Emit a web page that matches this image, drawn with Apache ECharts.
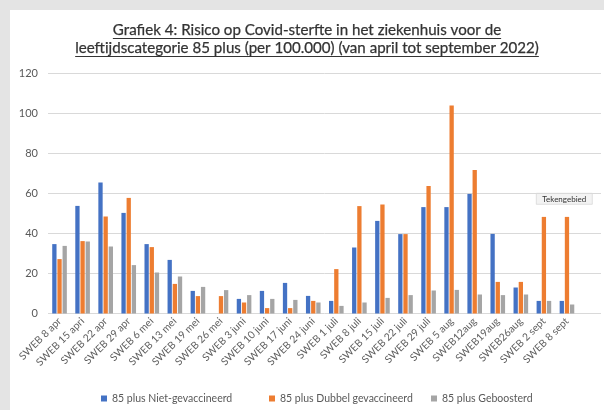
<!DOCTYPE html>
<html>
<head>
<meta charset="utf-8">
<script src="https://cdn.jsdelivr.net/npm/echarts@6/dist/echarts.min.js"></script>
<style>
  html, body { margin: 0; padding: 0; background: #e4e4e4; width: 604px; height: 410px; overflow: hidden; }
  #chart { position: absolute; left: 10px; top: 10px; width: 594px; height: 400px; background: #ffffff; }
</style>
</head>
<body>
<div id="chart"></div>
<script>
// Weekly hospital Covid mortality risk, age 85+, per 100,000 (April - September 2022)
const categories = [
  'SWEB 8 apr', 'SWEB 15 apri', 'SWEB 22 apr', 'SWEB 29 apr', 'SWEB 6 mei', 'SWEB 13 mei',
  'SWEB 19 mei', 'SWEB 26 mei', 'SWEB 3 juni', 'SWEB 10 juni', 'SWEB 17 juni', 'SWEB 24 juni',
  'SWEB 1 juli', 'SWEB 8 juli', 'SWEB 15 juli', 'SWEB 22 juli', 'SWEB 29 juli', 'SWEB 5 aug',
  'SWEB12aug', 'SWEB19aug', 'SWEB26aug', 'SWEB 2 sept', 'SWEB 8 sept'
];
const seriesNames = ['85 plus Niet-gevaccineerd', '85 plus Dubbel gevaccineerd', '85 plus Geboosterd'];
const nietGevaccineerd = [34.7, 53.8, 65.5, 50.3, 34.7, 26.8, 11.3, 0, 7.3, 11.3, 15.3, 8.8,
  6.3, 33.0, 46.3, 39.7, 53.2, 53.2, 59.8, 39.8, 13.0, 6.3, 6.3];
const dubbelGevaccineerd = [27.2, 36.2, 48.5, 57.8, 33.2, 14.8, 8.7, 8.7, 5.5, 2.7, 2.7, 6.3,
  22.2, 53.7, 54.5, 39.7, 63.8, 104.0, 71.8, 15.8, 15.8, 48.3, 48.3];
const geboosterd = [33.8, 36.0, 33.5, 24.2, 20.5, 18.5, 13.3, 11.7, 9.2, 7.3, 6.8, 5.5,
  3.8, 5.5, 7.8, 9.2, 11.5, 11.8, 9.5, 9.2, 9.5, 6.3, 4.5];
const yTicks = { min: 0, max: 120, interval: 20 };
const titleLines = [
  'Grafiek 4: Risico op Covid-sterfte in het ziekenhuis voor de',
  'leeftijdscategorie 85 plus (per 100.000) (van april tot september 2022)'
];
const tooltipNote = 'Tekengebied';

const colors = ['#4472C4', '#ED7D31', '#A5A5A5'];
const FONT = 'Lato, "Open Sans", sans-serif';

// Size the title so that the longer line spans the intended width
const measureCtx = document.createElement('canvas').getContext('2d');
function textWidth(txt, size, weight) {
  measureCtx.font = (weight || 'normal') + ' ' + size + 'px ' + FONT;
  return measureCtx.measureText(txt).width;
}
const titleSize = Math.min(16, 14 * 464 / textWidth(titleLines[1], 14));
const cx = 297;
const titleColor = '#333333';
const titleGraphics = [];
[[20.3, 28.5], [38.3, 46.5]].forEach(([ym, yu], i) => {
  const w = textWidth(titleLines[i], titleSize);
  titleGraphics.push({
    type: 'text', x: cx, y: ym, silent: true,
    style: { text: titleLines[i], font: `${titleSize}px ${FONT}`, fill: titleColor,
             stroke: titleColor, lineWidth: 0.25,
             align: 'center', verticalAlign: 'middle' }
  });
  titleGraphics.push({
    type: 'line', silent: true,
    shape: { x1: cx - w / 2, y1: yu, x2: cx + w / 2, y2: yu },
    style: { stroke: titleColor, lineWidth: 1 }
  });
});

const chart = echarts.init(document.getElementById('chart'), null, { renderer: 'canvas' });

const dataSets = [nietGevaccineerd, dubbelGevaccineerd, geboosterd];
const legendLefts = [86, 254, 416];

chart.setOption({
  animation: false,
  backgroundColor: '#ffffff',
  textStyle: { fontFamily: FONT },
  grid: [
    { left: 38, right: 3, top: 63.5, height: 240 },
    { left: 38, right: 25.5, top: 63.5, height: 240 }
  ],
  xAxis: [
    { gridIndex: 0, type: 'value', show: false, min: 0, max: 1 },
    {
      gridIndex: 1, type: 'category', data: categories,
      axisLine: { show: false }, axisTick: { show: false },
      axisLabel: { interval: 0, rotate: 45, fontSize: 10.3, color: '#5f5f5f', margin: 6, fontFamily: FONT }
    }
  ],
  yAxis: [
    {
      gridIndex: 0, type: 'value', min: yTicks.min, max: yTicks.max, interval: yTicks.interval,
      axisLine: { show: false }, axisTick: { show: false },
      axisLabel: { fontSize: 11, color: '#595959', margin: 10, fontFamily: FONT },
      splitLine: { lineStyle: { color: '#d9d9d9', width: 1 } }
    },
    {
      gridIndex: 1, type: 'value', min: yTicks.min, max: yTicks.max, interval: yTicks.interval,
      show: false, splitLine: { show: false }
    }
  ],
  legend: seriesNames.map((name, i) => ({
    data: [name], left: legendLefts[i], top: 378, icon: 'rect',
    itemWidth: 6, itemHeight: 6, itemGap: 5,
    textStyle: { fontSize: 10.5, color: '#595959', fontFamily: FONT }
  })),
  series: seriesNames.map((name, i) => ({
    name, type: 'bar', xAxisIndex: 1, yAxisIndex: 1,
    data: dataSets[i], barWidth: 4.3, barGap: '20%',
    itemStyle: { color: colors[i] }
  })),
  graphic: titleGraphics.concat([
    {
      type: 'group', left: 526, top: 183, silent: true,
      children: [
        { type: 'rect', shape: { x: 0, y: 0, width: 56, height: 11 },
          style: { fill: '#f3f3f3', stroke: '#cfcfcf', lineWidth: 0.6 } },
        { type: 'text', x: 28, y: 5.8,
          style: { text: tooltipNote, font: `8px ${FONT}`, fill: '#333333', align: 'center', verticalAlign: 'middle' } }
      ]
    }
  ])
});
</script>
</body>
</html>
